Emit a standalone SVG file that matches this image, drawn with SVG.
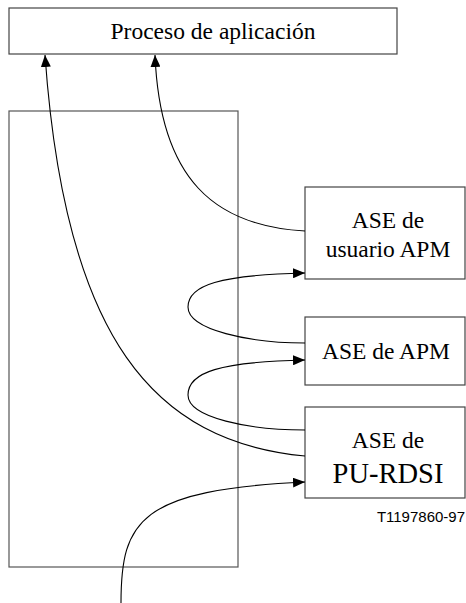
<svg xmlns="http://www.w3.org/2000/svg" width="466" height="603" viewBox="0 0 466 603">
  <style>
    .box { fill: #fff; stroke: #444; stroke-width: 1.2; }
    .frame { fill: none; stroke: #555; stroke-width: 1.2; }
    .lbl { font-family: "Liberation Serif", "Times New Roman", serif; font-size: 23.5px; fill: #000; text-anchor: middle; }
    .big { font-size: 28.5px; }
    .code { font-family: "Liberation Sans", Arial, sans-serif; font-size: 15px; fill: #000; text-anchor: end; }
    .link { fill: none; stroke: #000; stroke-width: 1.1; marker-end: url(#head); }
  </style>
  <defs>
    <marker id="head" viewBox="0 0 12 10" refX="12" refY="5" markerWidth="12" markerHeight="10" markerUnits="userSpaceOnUse" orient="auto">
      <path d="M0,0 L12,5 L0,10 Z" fill="#000"/>
    </marker>
  </defs>

  <rect width="466" height="603" fill="#fff"/>

  <!-- application process -->
  <g id="proceso">
    <rect class="box" x="9" y="8" width="388" height="46"/>
    <text class="lbl" x="213" y="39">Proceso de aplicación</text>
  </g>

  <!-- enclosing frame -->
  <g id="marco">
    <rect class="frame" x="9" y="111" width="229" height="456"/>
  </g>

  <g id="ase-usuario-apm">
    <rect class="box" x="305" y="187" width="160" height="92"/>
    <text class="lbl" x="388" y="228">ASE de</text>
    <text class="lbl" x="388" y="257">usuario APM</text>
  </g>

  <g id="ase-apm">
    <rect class="box" x="305" y="317" width="160" height="68"/>
    <text class="lbl" x="386" y="359">ASE de APM</text>
  </g>

  <g id="ase-pu-rdsi">
    <rect class="box" x="305" y="407" width="160" height="91"/>
    <text class="lbl" x="388" y="448">ASE de</text>
    <text class="lbl big" x="388" y="483">PU-RDSI</text>
  </g>

  <text class="code" x="465" y="522">T1197860-97</text>

  <g id="conectores">
    <path class="link" d="M305,456 C155,442 65,340 45,55"/>
    <path class="link" d="M305,231 C215,226 160,180 155,55"/>
    <path class="link" d="M305,343 C250,343 188,330 188,307 C188,285 220,275 305,273"/>
    <path class="link" d="M305,430 C250,430 188,418 188,395 C188,372 220,362 305,360"/>
    <path class="link" d="M121,603 C121,520 140,490 305,482"/>
  </g>
</svg>
